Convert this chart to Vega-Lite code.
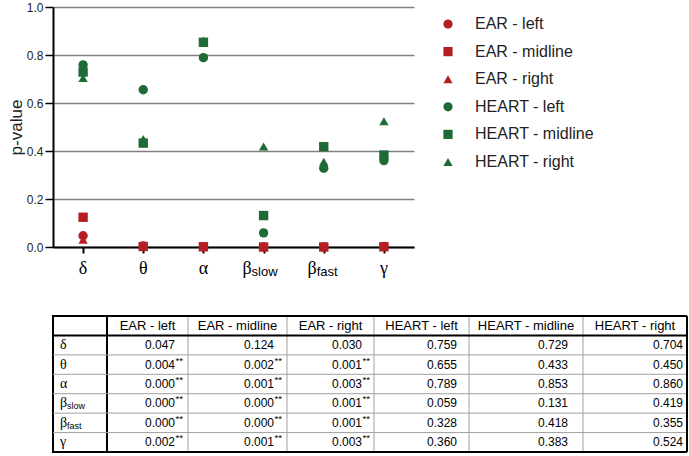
{
  "$schema": "https://vega.github.io/schema/vega-lite/v6.json",
  "padding": {"left": 7, "top": 1, "right": 0, "bottom": 0},
  "config": {
    "view": {"stroke": null},
    "font": "Liberation Sans",
    "scale": {"bandPaddingInner": 0, "bandPaddingOuter": 0}
  },
  "datasets": {
    "bands": [
      {"band": "δ", "greek": "δ", "sub": ""},
      {"band": "θ", "greek": "θ", "sub": ""},
      {"band": "α", "greek": "α", "sub": ""},
      {"band": "βslow", "greek": "β", "sub": "slow"},
      {"band": "βfast", "greek": "β", "sub": "fast"},
      {"band": "γ", "greek": "γ", "sub": ""}
    ],
    "pv": [
      {"band": "δ", "series": "EAR - right", "p": 0.030, "sig": ""},
      {"band": "θ", "series": "EAR - right", "p": 0.001, "sig": "**"},
      {"band": "α", "series": "EAR - right", "p": 0.003, "sig": "**"},
      {"band": "βslow", "series": "EAR - right", "p": 0.001, "sig": "**"},
      {"band": "βfast", "series": "EAR - right", "p": 0.001, "sig": "**"},
      {"band": "γ", "series": "EAR - right", "p": 0.003, "sig": "**"},
      {"band": "δ", "series": "EAR - left", "p": 0.047, "sig": ""},
      {"band": "θ", "series": "EAR - left", "p": 0.004, "sig": "**"},
      {"band": "α", "series": "EAR - left", "p": 0.000, "sig": "**"},
      {"band": "βslow", "series": "EAR - left", "p": 0.000, "sig": "**"},
      {"band": "βfast", "series": "EAR - left", "p": 0.000, "sig": "**"},
      {"band": "γ", "series": "EAR - left", "p": 0.002, "sig": "**"},
      {"band": "δ", "series": "EAR - midline", "p": 0.124, "sig": ""},
      {"band": "θ", "series": "EAR - midline", "p": 0.002, "sig": "**"},
      {"band": "α", "series": "EAR - midline", "p": 0.001, "sig": "**"},
      {"band": "βslow", "series": "EAR - midline", "p": 0.000, "sig": "**"},
      {"band": "βfast", "series": "EAR - midline", "p": 0.000, "sig": "**"},
      {"band": "γ", "series": "EAR - midline", "p": 0.001, "sig": "**"},
      {"band": "δ", "series": "HEART - right", "p": 0.704, "sig": ""},
      {"band": "θ", "series": "HEART - right", "p": 0.450, "sig": ""},
      {"band": "α", "series": "HEART - right", "p": 0.860, "sig": ""},
      {"band": "βslow", "series": "HEART - right", "p": 0.419, "sig": ""},
      {"band": "βfast", "series": "HEART - right", "p": 0.355, "sig": ""},
      {"band": "γ", "series": "HEART - right", "p": 0.524, "sig": ""},
      {"band": "δ", "series": "HEART - left", "p": 0.759, "sig": ""},
      {"band": "θ", "series": "HEART - left", "p": 0.655, "sig": ""},
      {"band": "α", "series": "HEART - left", "p": 0.789, "sig": ""},
      {"band": "βslow", "series": "HEART - left", "p": 0.059, "sig": ""},
      {"band": "βfast", "series": "HEART - left", "p": 0.328, "sig": ""},
      {"band": "γ", "series": "HEART - left", "p": 0.360, "sig": ""},
      {"band": "δ", "series": "HEART - midline", "p": 0.729, "sig": ""},
      {"band": "θ", "series": "HEART - midline", "p": 0.433, "sig": ""},
      {"band": "α", "series": "HEART - midline", "p": 0.853, "sig": ""},
      {"band": "βslow", "series": "HEART - midline", "p": 0.131, "sig": ""},
      {"band": "βfast", "series": "HEART - midline", "p": 0.418, "sig": ""},
      {"band": "γ", "series": "HEART - midline", "p": 0.383, "sig": ""}
    ]
  },
  "spacing": 69,
  "bounds": "flush",
  "vconcat": [
    {
      "width": 361,
      "height": 240,
      "layer": [
        {
          "data": {"name": "pv"},
          "mark": {"type": "point", "filled": true, "opacity": 1, "size": 88, "strokeWidth": 0},
          "encoding": {
            "x": {
              "field": "band", "type": "ordinal",
              "scale": {"type": "point", "domain": ["δ", "θ", "α", "βslow", "βfast", "γ"], "padding": 0.5},
              "axis": {"labels": false, "title": null, "grid": false, "tickSize": 6, "tickWidth": 2, "tickColor": "#000", "domainColor": "#000", "domainWidth": 2}
            },
            "y": {
              "field": "p", "type": "quantitative",
              "scale": {"domain": [0, 1], "nice": false},
              "axis": {
                "values": [0, 0.2, 0.4, 0.6, 0.8, 1.0], "format": ".1f",
                "title": "p-value", "titleFont": "Liberation Sans", "titleFontSize": 17, "titleFontWeight": "normal", "titleColor": "#222", "titlePadding": 1,
                "labelFont": "Liberation Sans", "labelFontSize": 12, "labelColor": "#222", "labelPadding": 2,
                "tickSize": 8, "tickWidth": 1.5, "tickColor": "#000",
                "domainColor": "#000", "domainWidth": 2,
                "grid": true, "gridColor": "#808080", "gridWidth": 1.3
              }
            },
            "color": {
              "field": "series", "type": "nominal",
              "scale": {"domain": ["EAR - left", "EAR - midline", "EAR - right", "HEART - left", "HEART - midline", "HEART - right"], "range": ["#B51F24", "#B51F24", "#B51F24", "#1E6B37", "#1E6B37", "#1E6B37"]},
              "legend": {"title": null, "orient": "none", "legendX": 387, "legendY": 9, "padding": 0, "labelFont": "Liberation Sans", "labelFontSize": 16, "labelColor": "#222", "symbolSize": 85, "rowPadding": 11.6, "labelOffset": 19, "symbolStrokeWidth": 0}
            },
            "shape": {
              "field": "series", "type": "nominal",
              "scale": {"domain": ["EAR - left", "EAR - midline", "EAR - right", "HEART - left", "HEART - midline", "HEART - right"], "range": ["circle", "square", "triangle-up", "circle", "square", "triangle-up"]},
              "legend": {"title": null, "orient": "none", "legendX": 387, "legendY": 9, "padding": 0, "labelFont": "Liberation Sans", "labelFontSize": 16, "labelColor": "#222", "symbolSize": 85, "rowPadding": 11.6, "labelOffset": 19, "symbolStrokeWidth": 0}
            }
          }
        },
        {
          "data": {"name": "bands"},
          "transform": [{"filter": "datum.sub === ''"}],
          "mark": {"type": "text", "font": "Liberation Serif", "fontSize": 18, "baseline": "alphabetic", "align": "center", "dy": 27, "color": "#000"},
          "encoding": {"x": {"field": "band", "type": "ordinal"}, "y": {"datum": 0}, "text": {"field": "greek"}}
        },
        {
          "data": {"name": "bands"},
          "transform": [{"filter": "datum.band === 'βslow'"}],
          "mark": {"type": "text", "font": "Liberation Serif", "fontSize": 18, "baseline": "alphabetic", "align": "right", "dx": -12, "dy": 27, "color": "#000"},
          "encoding": {"x": {"field": "band", "type": "ordinal"}, "y": {"datum": 0}, "text": {"field": "greek"}}
        },
        {
          "data": {"name": "bands"},
          "transform": [{"filter": "datum.band === 'βslow'"}],
          "mark": {"type": "text", "font": "Liberation Sans", "fontSize": 13, "baseline": "alphabetic", "align": "left", "dx": -12, "dy": 29, "color": "#000"},
          "encoding": {"x": {"field": "band", "type": "ordinal"}, "y": {"datum": 0}, "text": {"field": "sub"}}
        },
        {
          "data": {"name": "bands"},
          "transform": [{"filter": "datum.band === 'βfast'"}],
          "mark": {"type": "text", "font": "Liberation Serif", "fontSize": 18, "baseline": "alphabetic", "align": "right", "dx": -7, "dy": 27, "color": "#000"},
          "encoding": {"x": {"field": "band", "type": "ordinal"}, "y": {"datum": 0}, "text": {"field": "greek"}}
        },
        {
          "data": {"name": "bands"},
          "transform": [{"filter": "datum.band === 'βfast'"}],
          "mark": {"type": "text", "font": "Liberation Sans", "fontSize": 13, "baseline": "alphabetic", "align": "left", "dx": -7, "dy": 29, "color": "#000"},
          "encoding": {"x": {"field": "band", "type": "ordinal"}, "y": {"datum": 0}, "text": {"field": "sub"}}
        }
      ]
    },
    {
      "spacing": 0,
      "bounds": "flush",
      "hconcat": [
        {
          "width": 54, "height": 136,
          "view": {"stroke": "#000", "strokeWidth": 2},
          "data": {"name": "bands"},
          "layer": [
            {"transform": [{"filter": "datum.band !== 'δ'"}], "mark": {"type": "rule", "color": "#a0a0a0", "strokeWidth": 1},
             "encoding": {"y": {"field": "band", "type": "ordinal", "bandPosition": 0, "scale": {"type": "band", "domain": ["header", "δ", "θ", "α", "βslow", "βfast", "γ"]}, "axis": null}}},
            {"transform": [{"filter": "datum.band === 'δ'"}], "mark": {"type": "rule", "color": "#000", "strokeWidth": 2},
             "encoding": {"y": {"field": "band", "type": "ordinal", "bandPosition": 0, "scale": {"type": "band", "domain": ["header", "δ", "θ", "α", "βslow", "βfast", "γ"]}, "axis": null}}},
            {"mark": {"type": "text", "font": "Liberation Serif", "fontSize": 14, "align": "left", "baseline": "middle", "dx": -20, "color": "#000"},
             "encoding": {"y": {"field": "band", "type": "ordinal", "scale": {"type": "band", "domain": ["header", "δ", "θ", "α", "βslow", "βfast", "γ"]}, "axis": null}, "text": {"field": "greek"}}},
            {"transform": [{"filter": "datum.sub !== ''"}], "mark": {"type": "text", "font": "Liberation Sans", "fontSize": 9, "align": "left", "baseline": "middle", "dx": -13, "dy": 3, "color": "#000"},
             "encoding": {"y": {"field": "band", "type": "ordinal", "scale": {"type": "band", "domain": ["header", "δ", "θ", "α", "βslow", "βfast", "γ"]}, "axis": null}, "text": {"field": "sub"}}}
          ]
        },
        {
          "width": 81, "height": 136,
          "data": {"name": "pv"},
          "transform": [{"filter": "datum.series === 'EAR - left'"}],
          "layer": [
            {"transform": [{"filter": "datum.band !== 'δ'"}], "mark": {"type": "rule", "color": "#a0a0a0", "strokeWidth": 1},
             "encoding": {"y": {"field": "band", "type": "ordinal", "bandPosition": 0, "scale": {"type": "band", "domain": ["header", "δ", "θ", "α", "βslow", "βfast", "γ"]}, "axis": null}}},
            {"transform": [{"filter": "datum.band === 'δ'"}], "mark": {"type": "rule", "color": "#a0a0a0", "strokeWidth": 1}, "encoding": {"x": {"value": "width"}}},
            {"transform": [{"filter": "datum.band === 'δ'"}], "mark": {"type": "rule", "color": "#000", "strokeWidth": 2},
             "encoding": {"y": {"field": "band", "type": "ordinal", "bandPosition": 0, "scale": {"type": "band", "domain": ["header", "δ", "θ", "α", "βslow", "βfast", "γ"]}, "axis": null}}},
            {"transform": [{"filter": "datum.band === 'δ'"}], "mark": {"type": "rule", "color": "#000", "strokeWidth": 2},
             "encoding": {"y": {"datum": "header", "bandPosition": 0, "scale": {"type": "band", "domain": ["header", "δ", "θ", "α", "βslow", "βfast", "γ"]}, "axis": null}}},
            {"transform": [{"filter": "datum.band === 'δ'"}], "mark": {"type": "rule", "color": "#000", "strokeWidth": 2},
             "encoding": {"y": {"datum": "γ", "bandPosition": 1, "scale": {"type": "band", "domain": ["header", "δ", "θ", "α", "βslow", "βfast", "γ"]}, "axis": null}}},
            {"transform": [{"filter": "datum.band === 'δ'"}], "mark": {"type": "text", "fontSize": 13, "baseline": "middle", "align": "center", "color": "#000"},
             "encoding": {"y": {"datum": "header", "scale": {"type": "band", "domain": ["header", "δ", "θ", "α", "βslow", "βfast", "γ"]}, "axis": null}, "text": {"field": "series"}}},
            {"mark": {"type": "text", "fontSize": 12, "baseline": "middle", "align": "right", "x": "width", "dx": -13, "color": "#000"},
             "encoding": {"y": {"field": "band", "type": "ordinal", "scale": {"type": "band", "domain": ["header", "δ", "θ", "α", "βslow", "βfast", "γ"]}, "axis": null}, "text": {"field": "p", "format": ".3f"}}},
            {"transform": [{"filter": "datum.sig !== ''"}], "mark": {"type": "text", "fontSize": 9.5, "baseline": "middle", "align": "left", "x": "width", "dx": -12.5, "dy": -4, "color": "#000"},
             "encoding": {"y": {"field": "band", "type": "ordinal", "scale": {"type": "band", "domain": ["header", "δ", "θ", "α", "βslow", "βfast", "γ"]}, "axis": null}, "text": {"field": "sig"}}}
          ]
        },
        {
          "width": 99, "height": 136,
          "data": {"name": "pv"},
          "transform": [{"filter": "datum.series === 'EAR - midline'"}],
          "layer": [
            {"transform": [{"filter": "datum.band !== 'δ'"}], "mark": {"type": "rule", "color": "#a0a0a0", "strokeWidth": 1},
             "encoding": {"y": {"field": "band", "type": "ordinal", "bandPosition": 0, "scale": {"type": "band", "domain": ["header", "δ", "θ", "α", "βslow", "βfast", "γ"]}, "axis": null}}},
            {"transform": [{"filter": "datum.band === 'δ'"}], "mark": {"type": "rule", "color": "#a0a0a0", "strokeWidth": 1}, "encoding": {"x": {"value": "width"}}},
            {"transform": [{"filter": "datum.band === 'δ'"}], "mark": {"type": "rule", "color": "#000", "strokeWidth": 2},
             "encoding": {"y": {"field": "band", "type": "ordinal", "bandPosition": 0, "scale": {"type": "band", "domain": ["header", "δ", "θ", "α", "βslow", "βfast", "γ"]}, "axis": null}}},
            {"transform": [{"filter": "datum.band === 'δ'"}], "mark": {"type": "rule", "color": "#000", "strokeWidth": 2},
             "encoding": {"y": {"datum": "header", "bandPosition": 0, "scale": {"type": "band", "domain": ["header", "δ", "θ", "α", "βslow", "βfast", "γ"]}, "axis": null}}},
            {"transform": [{"filter": "datum.band === 'δ'"}], "mark": {"type": "rule", "color": "#000", "strokeWidth": 2},
             "encoding": {"y": {"datum": "γ", "bandPosition": 1, "scale": {"type": "band", "domain": ["header", "δ", "θ", "α", "βslow", "βfast", "γ"]}, "axis": null}}},
            {"transform": [{"filter": "datum.band === 'δ'"}], "mark": {"type": "text", "fontSize": 13, "baseline": "middle", "align": "center", "color": "#000"},
             "encoding": {"y": {"datum": "header", "scale": {"type": "band", "domain": ["header", "δ", "θ", "α", "βslow", "βfast", "γ"]}, "axis": null}, "text": {"field": "series"}}},
            {"mark": {"type": "text", "fontSize": 12, "baseline": "middle", "align": "right", "x": "width", "dx": -13, "color": "#000"},
             "encoding": {"y": {"field": "band", "type": "ordinal", "scale": {"type": "band", "domain": ["header", "δ", "θ", "α", "βslow", "βfast", "γ"]}, "axis": null}, "text": {"field": "p", "format": ".3f"}}},
            {"transform": [{"filter": "datum.sig !== ''"}], "mark": {"type": "text", "fontSize": 9.5, "baseline": "middle", "align": "left", "x": "width", "dx": -12.5, "dy": -4, "color": "#000"},
             "encoding": {"y": {"field": "band", "type": "ordinal", "scale": {"type": "band", "domain": ["header", "δ", "θ", "α", "βslow", "βfast", "γ"]}, "axis": null}, "text": {"field": "sig"}}}
          ]
        },
        {
          "width": 87, "height": 136,
          "data": {"name": "pv"},
          "transform": [{"filter": "datum.series === 'EAR - right'"}],
          "layer": [
            {"transform": [{"filter": "datum.band !== 'δ'"}], "mark": {"type": "rule", "color": "#a0a0a0", "strokeWidth": 1},
             "encoding": {"y": {"field": "band", "type": "ordinal", "bandPosition": 0, "scale": {"type": "band", "domain": ["header", "δ", "θ", "α", "βslow", "βfast", "γ"]}, "axis": null}}},
            {"transform": [{"filter": "datum.band === 'δ'"}], "mark": {"type": "rule", "color": "#a0a0a0", "strokeWidth": 1}, "encoding": {"x": {"value": "width"}}},
            {"transform": [{"filter": "datum.band === 'δ'"}], "mark": {"type": "rule", "color": "#000", "strokeWidth": 2},
             "encoding": {"y": {"field": "band", "type": "ordinal", "bandPosition": 0, "scale": {"type": "band", "domain": ["header", "δ", "θ", "α", "βslow", "βfast", "γ"]}, "axis": null}}},
            {"transform": [{"filter": "datum.band === 'δ'"}], "mark": {"type": "rule", "color": "#000", "strokeWidth": 2},
             "encoding": {"y": {"datum": "header", "bandPosition": 0, "scale": {"type": "band", "domain": ["header", "δ", "θ", "α", "βslow", "βfast", "γ"]}, "axis": null}}},
            {"transform": [{"filter": "datum.band === 'δ'"}], "mark": {"type": "rule", "color": "#000", "strokeWidth": 2},
             "encoding": {"y": {"datum": "γ", "bandPosition": 1, "scale": {"type": "band", "domain": ["header", "δ", "θ", "α", "βslow", "βfast", "γ"]}, "axis": null}}},
            {"transform": [{"filter": "datum.band === 'δ'"}], "mark": {"type": "text", "fontSize": 13, "baseline": "middle", "align": "center", "color": "#000"},
             "encoding": {"y": {"datum": "header", "scale": {"type": "band", "domain": ["header", "δ", "θ", "α", "βslow", "βfast", "γ"]}, "axis": null}, "text": {"field": "series"}}},
            {"mark": {"type": "text", "fontSize": 12, "baseline": "middle", "align": "right", "x": "width", "dx": -12, "color": "#000"},
             "encoding": {"y": {"field": "band", "type": "ordinal", "scale": {"type": "band", "domain": ["header", "δ", "θ", "α", "βslow", "βfast", "γ"]}, "axis": null}, "text": {"field": "p", "format": ".3f"}}},
            {"transform": [{"filter": "datum.sig !== ''"}], "mark": {"type": "text", "fontSize": 9.5, "baseline": "middle", "align": "left", "x": "width", "dx": -11.5, "dy": -4, "color": "#000"},
             "encoding": {"y": {"field": "band", "type": "ordinal", "scale": {"type": "band", "domain": ["header", "δ", "θ", "α", "βslow", "βfast", "γ"]}, "axis": null}, "text": {"field": "sig"}}}
          ]
        },
        {
          "width": 95, "height": 136,
          "data": {"name": "pv"},
          "transform": [{"filter": "datum.series === 'HEART - left'"}],
          "layer": [
            {"transform": [{"filter": "datum.band !== 'δ'"}], "mark": {"type": "rule", "color": "#a0a0a0", "strokeWidth": 1},
             "encoding": {"y": {"field": "band", "type": "ordinal", "bandPosition": 0, "scale": {"type": "band", "domain": ["header", "δ", "θ", "α", "βslow", "βfast", "γ"]}, "axis": null}}},
            {"transform": [{"filter": "datum.band === 'δ'"}], "mark": {"type": "rule", "color": "#a0a0a0", "strokeWidth": 1}, "encoding": {"x": {"value": "width"}}},
            {"transform": [{"filter": "datum.band === 'δ'"}], "mark": {"type": "rule", "color": "#000", "strokeWidth": 2},
             "encoding": {"y": {"field": "band", "type": "ordinal", "bandPosition": 0, "scale": {"type": "band", "domain": ["header", "δ", "θ", "α", "βslow", "βfast", "γ"]}, "axis": null}}},
            {"transform": [{"filter": "datum.band === 'δ'"}], "mark": {"type": "rule", "color": "#000", "strokeWidth": 2},
             "encoding": {"y": {"datum": "header", "bandPosition": 0, "scale": {"type": "band", "domain": ["header", "δ", "θ", "α", "βslow", "βfast", "γ"]}, "axis": null}}},
            {"transform": [{"filter": "datum.band === 'δ'"}], "mark": {"type": "rule", "color": "#000", "strokeWidth": 2},
             "encoding": {"y": {"datum": "γ", "bandPosition": 1, "scale": {"type": "band", "domain": ["header", "δ", "θ", "α", "βslow", "βfast", "γ"]}, "axis": null}}},
            {"transform": [{"filter": "datum.band === 'δ'"}], "mark": {"type": "text", "fontSize": 13, "baseline": "middle", "align": "center", "color": "#000"},
             "encoding": {"y": {"datum": "header", "scale": {"type": "band", "domain": ["header", "δ", "θ", "α", "βslow", "βfast", "γ"]}, "axis": null}, "text": {"field": "series"}}},
            {"mark": {"type": "text", "fontSize": 12, "baseline": "middle", "align": "right", "x": "width", "dx": -12, "color": "#000"},
             "encoding": {"y": {"field": "band", "type": "ordinal", "scale": {"type": "band", "domain": ["header", "δ", "θ", "α", "βslow", "βfast", "γ"]}, "axis": null}, "text": {"field": "p", "format": ".3f"}}}
          ]
        },
        {
          "width": 114, "height": 136,
          "data": {"name": "pv"},
          "transform": [{"filter": "datum.series === 'HEART - midline'"}],
          "layer": [
            {"transform": [{"filter": "datum.band !== 'δ'"}], "mark": {"type": "rule", "color": "#a0a0a0", "strokeWidth": 1},
             "encoding": {"y": {"field": "band", "type": "ordinal", "bandPosition": 0, "scale": {"type": "band", "domain": ["header", "δ", "θ", "α", "βslow", "βfast", "γ"]}, "axis": null}}},
            {"transform": [{"filter": "datum.band === 'δ'"}], "mark": {"type": "rule", "color": "#a0a0a0", "strokeWidth": 1}, "encoding": {"x": {"value": "width"}}},
            {"transform": [{"filter": "datum.band === 'δ'"}], "mark": {"type": "rule", "color": "#000", "strokeWidth": 2},
             "encoding": {"y": {"field": "band", "type": "ordinal", "bandPosition": 0, "scale": {"type": "band", "domain": ["header", "δ", "θ", "α", "βslow", "βfast", "γ"]}, "axis": null}}},
            {"transform": [{"filter": "datum.band === 'δ'"}], "mark": {"type": "rule", "color": "#000", "strokeWidth": 2},
             "encoding": {"y": {"datum": "header", "bandPosition": 0, "scale": {"type": "band", "domain": ["header", "δ", "θ", "α", "βslow", "βfast", "γ"]}, "axis": null}}},
            {"transform": [{"filter": "datum.band === 'δ'"}], "mark": {"type": "rule", "color": "#000", "strokeWidth": 2},
             "encoding": {"y": {"datum": "γ", "bandPosition": 1, "scale": {"type": "band", "domain": ["header", "δ", "θ", "α", "βslow", "βfast", "γ"]}, "axis": null}}},
            {"transform": [{"filter": "datum.band === 'δ'"}], "mark": {"type": "text", "fontSize": 13, "baseline": "middle", "align": "center", "color": "#000"},
             "encoding": {"y": {"datum": "header", "scale": {"type": "band", "domain": ["header", "δ", "θ", "α", "βslow", "βfast", "γ"]}, "axis": null}, "text": {"field": "series"}}},
            {"mark": {"type": "text", "fontSize": 12, "baseline": "middle", "align": "right", "x": "width", "dx": -15, "color": "#000"},
             "encoding": {"y": {"field": "band", "type": "ordinal", "scale": {"type": "band", "domain": ["header", "δ", "θ", "α", "βslow", "βfast", "γ"]}, "axis": null}, "text": {"field": "p", "format": ".3f"}}}
          ]
        },
        {
          "width": 104, "height": 136,
          "data": {"name": "pv"},
          "transform": [{"filter": "datum.series === 'HEART - right'"}],
          "layer": [
            {"transform": [{"filter": "datum.band !== 'δ'"}], "mark": {"type": "rule", "color": "#a0a0a0", "strokeWidth": 1},
             "encoding": {"y": {"field": "band", "type": "ordinal", "bandPosition": 0, "scale": {"type": "band", "domain": ["header", "δ", "θ", "α", "βslow", "βfast", "γ"]}, "axis": null}}},
            {"transform": [{"filter": "datum.band === 'δ'"}], "mark": {"type": "rule", "color": "#000", "strokeWidth": 2}, "encoding": {"x": {"value": "width"}}},
            {"transform": [{"filter": "datum.band === 'δ'"}], "mark": {"type": "rule", "color": "#000", "strokeWidth": 2},
             "encoding": {"y": {"field": "band", "type": "ordinal", "bandPosition": 0, "scale": {"type": "band", "domain": ["header", "δ", "θ", "α", "βslow", "βfast", "γ"]}, "axis": null}}},
            {"transform": [{"filter": "datum.band === 'δ'"}], "mark": {"type": "rule", "color": "#000", "strokeWidth": 2},
             "encoding": {"y": {"datum": "header", "bandPosition": 0, "scale": {"type": "band", "domain": ["header", "δ", "θ", "α", "βslow", "βfast", "γ"]}, "axis": null}}},
            {"transform": [{"filter": "datum.band === 'δ'"}], "mark": {"type": "rule", "color": "#000", "strokeWidth": 2},
             "encoding": {"y": {"datum": "γ", "bandPosition": 1, "scale": {"type": "band", "domain": ["header", "δ", "θ", "α", "βslow", "βfast", "γ"]}, "axis": null}}},
            {"transform": [{"filter": "datum.band === 'δ'"}], "mark": {"type": "text", "fontSize": 13, "baseline": "middle", "align": "center", "color": "#000"},
             "encoding": {"y": {"datum": "header", "scale": {"type": "band", "domain": ["header", "δ", "θ", "α", "βslow", "βfast", "γ"]}, "axis": null}, "text": {"field": "series"}}},
            {"mark": {"type": "text", "fontSize": 12, "baseline": "middle", "align": "right", "x": "width", "dx": -4, "color": "#000"},
             "encoding": {"y": {"field": "band", "type": "ordinal", "scale": {"type": "band", "domain": ["header", "δ", "θ", "α", "βslow", "βfast", "γ"]}, "axis": null}, "text": {"field": "p", "format": ".3f"}}}
          ]
        }
      ]
    }
  ]
}
